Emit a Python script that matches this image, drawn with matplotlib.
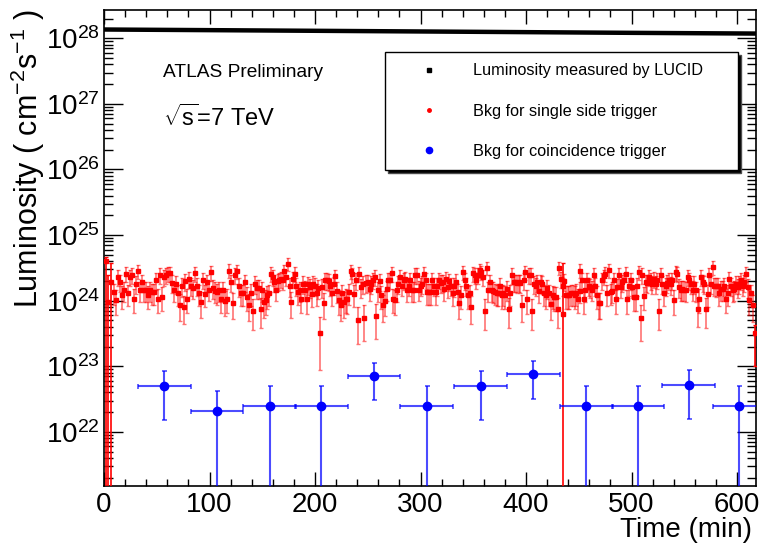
import numpy as np
import matplotlib.pyplot as plt
from matplotlib.lines import Line2D
from matplotlib.ticker import LogLocator, MultipleLocator, NullFormatter

plt.rcParams['font.family'] = ['Liberation Sans', 'DejaVu Sans']
plt.rcParams['mathtext.fontset'] = 'custom'
plt.rcParams['mathtext.rm'] = 'Liberation Sans'
plt.rcParams['mathtext.it'] = 'Liberation Sans:italic'
plt.rcParams['mathtext.bf'] = 'Liberation Sans:bold'

# LUCID luminosity (cm^-2 s^-1) vs time (min)
lumi_t = [0, 100, 200, 300, 400, 500, 618]
lumi = [1.36e28, 1.33e28, 1.30e28, 1.27e28, 1.24e28, 1.21e28, 1.18e28]

# single side trigger background, log10(L / 1e24) in hundredths, read in four time spans
red_a_span = (9.5, 146.8)
red_a = [13, 1, 36, 28, 8, 16, 41, 11, 36, 39, 3, 26, 45, 16, 28, 16, 16, 8, 16, 13,
         13, 31, 3, 39, 6, 36, 39, 42, 42, 27, 16, 26, 11, -6, 22, -9, 30, 3, 33, 23,
         20, 42, 23, 11, -2, 32, 10, 28, 17, 43, 20, 15, 13, 16, 3, 16, 0, 3, 46, 28,
         -4, 39, 45, 22, 11, 11, 28, 6, -6, 12, -15, 26, 20, 20]
red_b_span = (148.4, 298.4)
red_b = [-13, 16, -2, 1, 8, 11, 41, 36, 28, 17, 30, 31, 33, 31, 45, 36, 56, 22, -2, 33,
         41, 23, 13, 16, 3, 26, 17, 2, 25, 21, 10, 26, 23, 12, 20, -49, 21, -4, 31, 31,
         30, 23, 12, 25, 37, 15, 1, -6, 11, -2, 3, 2, 13, 45, 40, 10, 31, -29, 41, 21,
         26, -26, 27, 28, 18, 26, 32, 36, -24, 16, 30, 8, -7, 0, 18, 31, 32, 42, 3, 1,
         16, 26, 36, 23, 31, 33, 16, 23, 31, 16, 16, 39, 39, 17]
red_c_span = (300.0, 450.8)
red_c = [23, 26, 41, 32, 13, 13, 13, 31, 23, 13, 23, 32, 27, 28, 18, 33, 21, 30, 23, 12,
         22, 29, 13, -4, 8, 44, 31, 23, 8, 11, -9, 42, 39, 32, 39, 47, 44, 36, -15, 50,
         16, 28, 16, 15, 13, 11, 12, 23, 8, 11, 8, 18, -13, 11, 39, 28, 28, 27, 28, 27,
         -7, 31, 44, 2, 39, 39, -15, 26, 23, 28, 15, 28, 26, 11, 8, 20, 11, -5, 8, 6,
         6, -13, 50, 33, 23, 30, 8, 8, 8, 11, 11, 8, 12, 3, 15]
red_d_span = (451.5, 614.9)
red_d = [46, 31, 2, 16, 31, 23, 21, 17, 39, 23, 8, -4, -4, 31, 37, 41, 11, 47, 13, 15,
         31, 2, 21, 39, 21, 28, 31, 41, 2, 23, 31, 21, 6, 6, 23, 44, -26, 39, 7, 28,
         27, 36, 31, 26, 33, 26, 32, -15, 39, 26, 12, 23, 27, 31, 25, 31, 1, 43, 41, 21,
         17, 18, 17, 16, 36, 31, 26, 17, 26, 16, -12, 3, 36, 28, 26, -13, 10, 39, 26, 51,
         23, 22, 23, 12, 18, 18, 23, 3, 11, 33, 23, 16, 18, 26, 21, 26, 31, 23, 28, 41,
         21, 1, 11, -7]
red_k = 1.7e23  # luminosity per count, for the statistical error

# low-statistics single side bins with large errors
red_edge_t = [2.3, 3.8, 7.0, 434.8, 617.0]
red_edge_v = [4.1e24, 0.95e24, 1.9e24, 6.2e23, 3.2e23]
red_edge_lo = [4.1e24, 0.95e24, 1.9e24, 6.2e23, 2.2e23]
red_edge_hi = [0.5e24, 1.5e24, 1.9e24, 3.1e24, 1.0e23]

# coincidence trigger background
blue_t = [57, 107, 157, 206, 256, 306, 357, 407, 457, 506, 554, 602]
blue_v = [5.0e22, 2.1e22, 2.5e22, 2.5e22, 7.1e22, 2.5e22, 5.0e22, 7.6e22, 2.5e22, 2.5e22, 5.2e22, 2.5e22]
blue_err = [3.5e22, 2.1e22, 2.5e22, 2.5e22, 4.0e22, 2.5e22, 3.5e22, 4.4e22, 2.5e22, 2.5e22, 3.6e22, 2.5e22]
blue_xerr = 25

labels = ['Luminosity measured by LUCID', 'Bkg for single side trigger', 'Bkg for coincidence trigger']

fig = plt.figure(figsize=(7.61, 5.45), dpi=100)
ax = fig.add_axes([0.1367, 0.1083, 0.8568, 0.8734])

ax.plot(lumi_t, lumi, color='black', lw=3.2, solid_capstyle='butt', zorder=3)

red_t, red_v = [], []
for span, vals in [(red_a_span, red_a), (red_b_span, red_b), (red_c_span, red_c), (red_d_span, red_d)]:
    red_t.append(np.linspace(span[0], span[1], len(vals)))
    red_v.append(1e24 * 10 ** (np.array(vals) / 100.0))
red_t = np.concatenate(red_t)
red_v = np.concatenate(red_v)
red_err = np.sqrt(red_k * red_v)

ax.errorbar(red_t, red_v, yerr=red_err, fmt='s', ms=3, color='red', mec='red',
            ecolor=(1, 0, 0, 0.55), elinewidth=1.2, capsize=1.5, capthick=1.0, zorder=4)
ax.errorbar(red_edge_t, red_edge_v, yerr=[red_edge_lo, red_edge_hi], fmt='s', ms=3,
            color='red', mec='red', ecolor='red', elinewidth=1.2, capsize=1.5, capthick=1.0, zorder=4)
ax.errorbar(blue_t, blue_v, yerr=blue_err, xerr=blue_xerr, fmt='o', ms=6, color='blue',
            ecolor=(0, 0, 1, 0.7), elinewidth=1.5, capsize=1.8, capthick=1.2, zorder=5)

ax.set_yscale('log')
ax.set_ylim(1.5e21, 2.7e28)
ax.set_xlim(0, 618)
ax.yaxis.set_major_locator(LogLocator(base=10, numticks=20))
ax.yaxis.set_minor_locator(LogLocator(base=10, subs=np.arange(2, 10), numticks=20))
ax.yaxis.set_minor_formatter(NullFormatter())
ax.xaxis.set_major_locator(MultipleLocator(100))
ax.xaxis.set_minor_locator(MultipleLocator(20))

ax.tick_params(which='both', direction='in', top=True, right=True, width=1.0, labelsize=20)
ax.tick_params(axis='y', which='major', length=13.5, pad=3)
ax.tick_params(axis='y', which='minor', length=6.5)
ax.tick_params(axis='x', which='major', length=10, pad=4)
ax.tick_params(axis='x', which='minor', length=5)
for s in ax.spines.values():
    s.set_linewidth(1.2)

ax.set_xlabel('Time (min)', fontsize=20, loc='right')
ax.xaxis.set_label_coords(0.994, -0.066)
ax.set_ylabel(r'Luminosity ( cm$^{\mathregular{-2}}$s$^{\mathregular{-1}}$ )', fontsize=22)
ax.yaxis.set_label_coords(-0.087, 0.687)

ax.text(0.0905, 0.8676, 'ATLAS Preliminary', transform=ax.transAxes, fontsize=13.8, va='center', ha='left')
ax.text(0.0905, 0.773, r'$\sqrt{\mathrm{s}}$=7 TeV', transform=ax.transAxes, fontsize=17, va='center', ha='left')

handles = [Line2D([], [], ls='none', marker='s', ms=3, color='black'),
           Line2D([], [], ls='none', marker='o', ms=2.5, color='red'),
           Line2D([], [], ls='none', marker='o', ms=4.5, color='blue')]
leg = ax.legend(handles, labels, loc='upper left', bbox_to_anchor=(0.431, 0.6366, 0.5414, 0.2752),
                mode='expand', borderaxespad=0, fontsize=11.7, frameon=True, fancybox=False,
                edgecolor='black', framealpha=1, handlelength=4, handletextpad=0.7,
                labelspacing=1.55, borderpad=0.7,
                shadow={'ox': 2.2, 'oy': -2.2, 'facecolor': 'black', 'alpha': 1})
leg.get_frame().set_linewidth(1.0)

fig.savefig('out.png', dpi=100)
